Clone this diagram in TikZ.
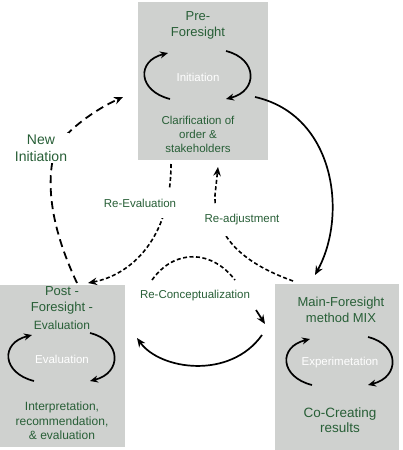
\documentclass[tikz,border=0pt]{standalone}
\usepackage{fontspec}
\setmainfont{Liberation Sans}
\usetikzlibrary{calc}
\usetikzlibrary{arrows.meta}
\definecolor{fgreen}{RGB}{40,95,55}
\definecolor{boxgrey}{RGB}{207,209,207}

\tikzset{
 phasebox/.style={fill=boxgrey, draw=none, inner sep=0},
 phasetitle/.style={text=fgreen, align=center, font=\fontsize{13}{16}\selectfont},
 phasetext/.style={text=fgreen, align=center, font=\fontsize{11.5}{14}\selectfont},
 phasename/.style={text=white, font=\fontsize{11.5}{14}\selectfont},
 flowlabel/.style={text=fgreen, fill=white, inner xsep=1pt, font=\fontsize{11.5}{14}\selectfont},
 loopline/.style={line width=1.7pt, ->, >={Stealth[length=8pt,width=7pt]}},
 mainline/.style={line width=1.7pt},
 shortdash/.style={line width=1.6pt, dash pattern=on 4pt off 2.5pt},
 longdash/.style={line width=1.8pt, dash pattern=on 8pt off 5pt}
}

\begin{document}
\begin{tikzpicture}[x=1pt, y=-1pt, >={Stealth[length=9pt,width=7.5pt]}]
\useasboundingbox (0,0) rectangle (402,450);
% phase boxes
\node[phasebox, minimum width=130pt, minimum height=158pt] (pre) at (203,81) {};
\node[phasebox, minimum width=125pt, minimum height=162pt] (post) at (62.5,366) {};
\node[phasebox, minimum width=124pt, minimum height=166pt] (main) at (337,367) {};

% texts in the boxes
\node[phasetitle] (pretitle) at (198,25) {Pre-\\Foresight};
\node[phasename] (ini) at (198,77) {Initiation};
\node[phasetext] (pretext) at (198,134) {Clarification of\\order \&\\stakeholders};

\node[phasetitle] (posttitle) at (62,300) {Post -\\Foresight -};
\node[phasetext, font=\fontsize{12}{14}\selectfont] (postsub) at (62,325) {Evaluation};
\node[phasename] (eva) at (62,359) {Evaluation};
\node[phasetext, font=\fontsize{12}{14.5}\selectfont] (posttext) at (62,421) {Interpretation,\\recommendation,\\\& evaluation};

\node[phasetitle] (maintitle) at (341,310) {Main-Foresight\\method MIX};
\node[phasename] (exper) at (340,363) {Experimetation};
\node[phasetitle, font=\fontsize{13.5}{15}\selectfont] (maintext) at (340,420) {Co-Creating\\results};

% loops round the phase names
\foreach \n in {ini,eva,exper} {
 \draw[loopline] ($(\n)+(-28,22)$) .. controls +(-32,-8) and +(-32,8) .. ($(\n)+(-30,-24)$);
 \draw[loopline] ($(\n)+(28,-26)$) .. controls +(32,8) and +(32,-8) .. ($(\n)+(28,22)$);
}

% ends of the connectors
\coordinate (preE) at (255,97);
\coordinate (preW) at (123,97);
\coordinate (preS1) at (171,164);
\coordinate (preS2) at (218,167);
\coordinate (postN1) at (88,283);
\coordinate (postN2) at (77,283);
\coordinate (postE) at (137,338);
\coordinate (mainN) at (315,275);
\coordinate (mainN1) at (293,281);
\coordinate (mainW) at (265,324);
\coordinate (mainW2) at (262,335);
\coordinate (conA) at (152,280);
\coordinate (conB) at (235,280);
\coordinate (conC) at (256,310);

% connectors
\draw[mainline, ->] (preE) .. controls (335,115) and (348,215) .. (mainN);
\draw[shortdash, ->] (preS1) .. controls (171,240) and (130,275) .. (postN1);
\draw[shortdash, ->] (mainN1) .. controls (240,262) and (214,235) .. (215,195) -- (preS2);
\draw[shortdash] (conA) .. controls (175,248) and (212,250) .. (conB);
\draw[mainline, ->] (conC) -- (mainW);
\draw[mainline, ->] (mainW2) .. controls (230,380) and (160,370) .. (postE);
\draw[longdash, ->] (postN2) .. controls (52,230) and (45,185) .. (55,150)
   .. controls (62,135) and (90,112) .. (preW);

% labels on the connectors
\node[flowlabel, inner ysep=11pt] (reeval) at (140,203) {Re-Evaluation};
\node[flowlabel, inner ysep=11pt] (readj) at (242,220) {Re-adjustment};
\node[flowlabel] (recon) at (195,296) {Re-Conceptualization};
\node[flowlabel, align=center, inner sep=2pt, font=\fontsize{14}{17}\selectfont] (newini) at (41,148) {New\\Initiation};
\end{tikzpicture}
\end{document}
